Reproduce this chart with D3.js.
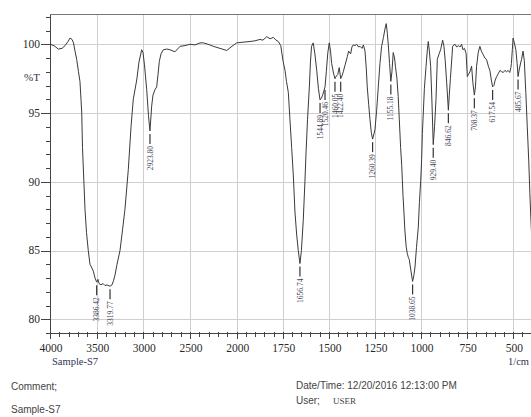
<!DOCTYPE html>
<html><head><meta charset="utf-8">
<script src="https://cdn.jsdelivr.net/npm/d3@7"></script>
<style>body{margin:0;background:#fff;overflow:hidden}</style>
</head><body>
<svg id="c" width="531" height="417"></svg>
<script>
// ---- data ----
const wavenumber = [4000,3957,3911,3871,3839,3807,3786,3764,3748,3732,3714,3695,3679,3668,3660,3652,3643,3625,3609,3590,3572,3556,3536,3518,3500,3486,3475,3454,3432,3411,3389,3357,3336,3320,3304,3282,3250,3223,3197,3161,3132,3108,3071,3047,3018,3004,2988,2964,2945,2929,2911,2897,2875,2857,2843,2829,2811,2786,2747,2715,2661,2607,2554,2500,2447,2393,2357,2307,2251,2179,2107,2061,2000,1966,1928,1901,1874,1858,1837,1819,1801,1787,1774,1761,1749,1738,1730,1720,1711,1702,1693,1684,1675,1666,1657,1649,1639,1630,1624,1616,1606,1600,1594,1585,1576,1566,1557,1548,1540,1534,1527,1521,1514,1506,1498,1491,1485,1475,1467,1459,1452,1444,1436,1429,1422,1412,1400,1393,1382,1375,1368,1359,1349,1339,1331,1320,1313,1304,1297,1292,1284,1277,1270,1263,1257,1250,1241,1232,1223,1214,1204,1196,1189,1183,1178,1171,1164,1158,1151,1144,1139,1131,1124,1118,1111,1105,1098,1093,1088,1081,1075,1069,1064,1056,1046,1039,1033,1025,1015,1009,1002,997,993,988,982,973,966,961,955,948,941,934,927,919,912,901,894,883,876,869,861,852,847,841,832,829,816,807,798,789,780,773,765,756,749,743,735,726,719,711,705,699,690,681,673,663,654,645,635,627,619,612,605,598,590,580,572,563,554,545,536,528,519,513,510,505,501,494,486,479,474,467,459,455,447,440,432,424,416,410,405,400];
const transmittance = [100.0,99.9,99.65,99.7,99.9,100.2,100.45,100.35,100.1,99.5,98.9,98.0,97.3,96.0,95.0,92.5,91.0,88.0,86.3,85.0,84.0,83.8,83.5,83.0,82.7,82.9,82.6,82.5,82.6,82.45,82.5,82.4,82.5,82.8,83.2,84.0,85.0,86.5,88.0,90.9,94.0,96.0,97.4,98.7,99.6,99.4,98.5,96.7,94.8,93.7,95.5,96.3,96.7,96.9,97.8,98.75,99.3,99.6,99.65,99.6,99.45,99.85,99.9,100.0,99.95,100.1,100.1,100.0,99.85,99.7,99.55,99.8,100.1,100.15,100.2,100.25,100.35,100.3,100.55,100.4,100.5,100.3,100.2,99.9,98.8,98.1,97.3,96.5,94.5,92.5,90.5,87.8,86.2,85.0,84.05,85.0,87.2,90.0,92.1,94.5,96.9,98.7,99.85,100.1,99.3,98.1,96.8,95.95,96.1,96.3,96.6,96.9,98.0,99.35,100.1,99.5,98.6,97.9,97.5,97.7,97.8,98.3,97.5,97.7,98.0,98.5,99.1,99.5,99.3,99.8,99.95,99.9,100.0,99.8,99.85,99.7,99.95,99.5,98.2,96.9,95.6,94.5,93.6,93.1,93.4,93.8,95.2,96.9,98.6,99.85,100.5,101.1,101.5,100.8,100.0,98.6,97.3,98.0,99.4,99.0,98.4,97.5,96.2,94.5,92.5,91.2,89.0,87.8,86.5,85.3,84.8,84.5,84.35,83.6,82.75,83.2,83.8,85.2,86.7,88.5,90.1,91.6,93.5,95.0,96.8,98.4,99.6,100.2,99.5,98.4,95.8,92.7,94.0,96.0,98.9,99.35,99.6,100.3,99.85,98.8,97.2,95.2,96.3,97.5,99.2,99.85,100.0,99.8,99.9,99.8,100.0,99.6,99.7,99.35,97.65,97.8,98.0,98.4,97.2,96.3,96.9,98.4,99.4,99.85,99.5,99.25,99.0,98.9,98.4,98.1,97.4,96.9,97.0,97.4,97.65,97.9,98.1,98.0,97.95,98.1,98.0,98.1,97.95,98.3,98.6,99.6,100.45,100.1,99.6,98.6,97.65,98.2,98.7,98.9,99.5,98.8,96.5,94.0,91.5,89.2,87.5,86.0];
const peakPositions = [3500,3357,2929,1657,1548,1521,1467,1436,1263,1164,1046,934,852,711,612,474];
const peakLabels = ["3386.42","3319.77","2923.80","1656.74","1544.89","1520.46","1460.05","1422.40","1260.39","1155.18","1038.65","929.40","846.62","708.37","617.54","485.67"];
const xTickValues = [4000,3500,3000,2500,2000,1750,1500,1250,1000,750,500];
const yTickValues = [80,85,90,95,100];

// ---- layout ----
const svg = d3.select("#c");
const L = 50, R = 531.7, T = 14, B = 333;
const x = d3.scaleLinear().domain([4000, 2000, 400]).range([L, 236.7, R]);
const y = d3.scaleLinear().domain([79, 102.2]).range([B, T]);
const serif = "'Liberation Serif','Times New Roman',serif";
const sans = "'Liberation Sans',Arial,sans-serif";

svg.append("clipPath").attr("id","clip").append("rect")
  .attr("x", L).attr("y", T).attr("width", R - L).attr("height", B - T);

// grid
const grid = svg.append("g").attr("stroke", "#cfcfcf").attr("stroke-width", 1);
grid.selectAll("line.gx").data(xTickValues.slice(1)).join("line")
  .attr("x1", d => Math.round(x(d)) + 0.5).attr("x2", d => Math.round(x(d)) + 0.5)
  .attr("y1", T).attr("y2", B);
grid.selectAll("line.gy").data(yTickValues).join("line")
  .attr("x1", L).attr("x2", R)
  .attr("y1", d => Math.round(y(d)) + 0.5).attr("y2", d => Math.round(y(d)) + 0.5);

// frame
const frame = svg.append("g").attr("stroke", "#444").attr("stroke-width", 1).attr("fill", "none");
frame.append("line").attr("x1", L + 0.5).attr("x2", L + 0.5).attr("y1", T).attr("y2", B + 0.5);
frame.append("line").attr("x1", L).attr("x2", 531).attr("y1", T + 0.5).attr("y2", T + 0.5).attr("stroke", "#777");
frame.append("line").attr("x1", L).attr("x2", 531).attr("y1", B + 0.5).attr("y2", B + 0.5);

// y axis ticks
const yMinor = d3.range(79, 103, 1);
svg.append("g").selectAll("line").data(yMinor).join("line")
  .attr("x1", d => yTickValues.includes(d) ? 41 : 46).attr("x2", L)
  .attr("y1", d => Math.round(y(d)) + 0.5).attr("y2", d => Math.round(y(d)) + 0.5)
  .attr("stroke", "#444");
svg.append("g").selectAll("text").data(yTickValues).join("text")
  .attr("x", 40).attr("y", d => y(d) + 3.8).attr("text-anchor", "end")
  .attr("font-family", serif).attr("font-size", 11.5).attr("fill", "#2a2a2a")
  .text(d => d);
svg.append("text").attr("x", 40).attr("y", 81).attr("text-anchor", "end")
  .attr("font-family", serif).attr("font-size", 11).attr("fill", "#334")
  .text("%T");

// x axis ticks
const xMinor = d3.range(4000, 2000, -100).concat(d3.range(2000, 399, -50));
svg.append("g").selectAll("line").data(xMinor).join("line")
  .attr("x1", d => Math.round(x(d)) + 0.5).attr("x2", d => Math.round(x(d)) + 0.5)
  .attr("y1", B - 1).attr("y2", d => xTickValues.includes(d) ? B + 6 : B + 4)
  .attr("stroke", "#444");
svg.append("g").selectAll("text").data(xTickValues).join("text")
  .attr("x", d => x(d) + 1).attr("y", 352).attr("text-anchor", "middle")
  .attr("font-family", serif).attr("font-size", 11.5).attr("fill", "#2a2a2a")
  .text(d => d);
svg.append("text").attr("x", 52).attr("y", 365)
  .attr("font-family", serif).attr("font-size", 10.5).attr("fill", "#335")
  .text("Sample-S7");
svg.append("text").attr("x", 508).attr("y", 365)
  .attr("font-family", serif).attr("font-size", 10.5).attr("fill", "#335")
  .text("1/cm");

// spectrum
const pts = wavenumber.map((w, i) => [w, transmittance[i]]);
svg.append("path").datum(pts).attr("clip-path", "url(#clip)")
  .attr("fill", "none").attr("stroke", "#3a3a3a").attr("stroke-width", 1)
  .attr("d", d3.line().x(d => x(d[0])).y(d => y(d[1])));

// peak labels
const interp = w => {
  for (let i = 0; i < wavenumber.length - 1; i++) {
    if (w <= wavenumber[i] && w >= wavenumber[i + 1]) {
      const t = (wavenumber[i] - w) / (wavenumber[i] - wavenumber[i + 1]);
      return transmittance[i] + t * (transmittance[i + 1] - transmittance[i]);
    }
  }
  return 100;
};
const pk = svg.append("g");
peakPositions.forEach((w, i) => {
  const px = x(w), py = y(interp(w));
  pk.append("line").attr("x1", px).attr("x2", px).attr("y1", py + 3).attr("y2", py + 13)
    .attr("stroke", "#333").attr("stroke-width", 1.2);
  pk.append("text").attr("transform", `translate(${px + 2.6},${py + 15}) rotate(-90)`)
    .attr("text-anchor", "end")
    .attr("font-family", serif).attr("font-size", 7.5).attr("fill", "#445")
    .text(peakLabels[i]);
});

// footer
svg.append("text").attr("x", 11).attr("y", 390).attr("font-family", sans).attr("font-size", 10).attr("fill", "#444").text("Comment;");
svg.append("text").attr("x", 11).attr("y", 413).attr("font-family", sans).attr("font-size", 10).attr("fill", "#444").text("Sample-S7");
svg.append("text").attr("x", 296).attr("y", 389).attr("font-family", sans).attr("font-size", 10).attr("fill", "#444").text("Date/Time: 12/20/2016 12:13:00 PM");
svg.append("text").attr("x", 296).attr("y", 404).attr("font-family", sans).attr("font-size", 10).attr("fill", "#444").text("User;");
svg.append("text").attr("x", 333).attr("y", 404).attr("font-family", serif).attr("font-size", 9).attr("fill", "#444").text("USER");
</script>
</body></html>
